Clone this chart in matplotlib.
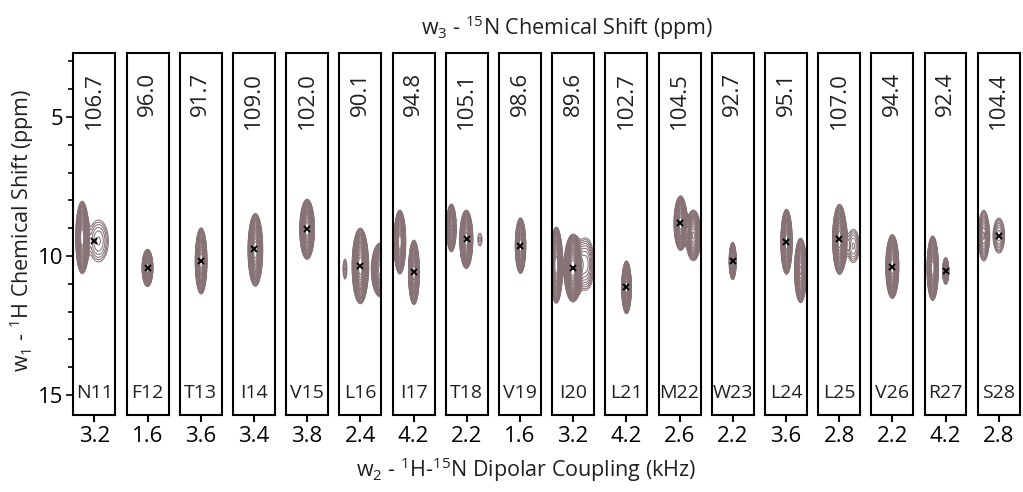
import numpy as np
import matplotlib.pyplot as plt
from matplotlib.ticker import MultipleLocator

plt.rcParams['font.family'] = ['Open Sans', 'DejaVu Sans']
plt.rcParams['mathtext.fontset'] = 'custom'
plt.rcParams['mathtext.rm'] = 'Open Sans'
plt.rcParams['mathtext.default'] = 'regular'
plt.rcParams['text.color'] = '#231f20'

# strip labels and assigned peak positions
residues = ['N11', 'F12', 'T13', 'I14', 'V15', 'L16', 'I17', 'T18', 'V19',
            'I20', 'L21', 'M22', 'W23', 'L24', 'L25', 'V26', 'R27', 'S28']
n15_shift = [106.7, 96.0, 91.7, 109.0, 102.0, 90.1, 94.8, 105.1, 98.6,
             89.6, 102.7, 104.5, 92.7, 95.1, 107.0, 94.4, 92.4, 104.4]
dipolar = [3.2, 1.6, 3.6, 3.4, 3.8, 2.4, 4.2, 2.2, 1.6,
           3.2, 4.2, 2.6, 2.2, 3.6, 2.8, 2.2, 4.2, 2.8]
h1_shift = [9.45, 10.43, 10.18, 9.76, 9.04, 10.36, 10.59, 9.40, 9.63,
            10.44, 11.13, 8.82, 10.18, 9.49, 9.40, 10.38, 10.54, 9.27]

# every resonance seen in each strip:
# (strip, dipolar kHz, 1H ppm, half-width kHz, half-width ppm, height)
peaks = [
    (0, 2.62, 9.33, 0.30, 1.29, 1.0), (0, 3.40, 9.46, 0.47, 0.75, 0.09),
    (1, 1.60, 10.43, 0.26, 0.67, 1.0),
    (2, 3.62, 10.18, 0.28, 1.19, 1.0),
    (3, 3.47, 9.78, 0.35, 1.31, 1.0),
    (4, 3.80, 9.04, 0.35, 1.08, 1.0),
    (5, 2.40, 10.36, 0.39, 1.36, 1.0), (5, 1.67, 10.47, 0.09, 0.36, 0.08),
    (5, 3.35, 10.50, 0.42, 0.97, 0.6),
    (6, 4.22, 10.59, 0.26, 1.16, 1.0), (6, 3.55, 9.50, 0.28, 1.15, 1.0),
    (7, 2.18, 9.40, 0.31, 1.05, 1.0), (7, 1.47, 8.99, 0.23, 0.86, 0.8),
    (7, 2.83, 9.41, 0.10, 0.23, 0.065),
    (8, 1.63, 9.63, 0.25, 1.00, 1.0),
    (9, 3.18, 10.44, 0.41, 1.20, 1.0), (9, 2.40, 10.33, 0.30, 1.37, 1.0),
    (9, 3.79, 10.29, 0.42, 0.94, 0.12),
    (10, 4.21, 11.13, 0.23, 0.95, 1.0),
    (11, 2.65, 8.82, 0.31, 0.98, 1.0), (11, 3.26, 9.26, 0.36, 0.91, 0.4),
    (12, 2.20, 10.18, 0.17, 0.67, 0.5),
    (13, 3.63, 9.49, 0.27, 1.17, 1.0), (13, 4.30, 10.52, 0.29, 1.16, 0.8),
    (14, 2.82, 9.40, 0.33, 1.26, 1.0), (14, 3.48, 9.64, 0.28, 0.60, 0.09),
    (15, 2.20, 10.38, 0.31, 1.15, 1.0),
    (16, 4.21, 10.54, 0.15, 0.48, 0.4), (16, 3.59, 10.44, 0.27, 1.16, 1.0),
    (17, 2.81, 9.27, 0.27, 0.63, 0.12), (17, 2.09, 9.27, 0.26, 0.91, 0.2),
]

W, H = 1023, 492
fig = plt.figure(figsize=(W / 100, H / 100), dpi=100)

y_top, y_bottom = 2.70, 15.72
floor = 0.05
levels = floor * 1.12 ** np.arange(26)
contour_color = '#877376'

for i, (res, n15, dc, h1) in enumerate(zip(residues, n15_shift, dipolar, h1_shift)):
    ax = fig.add_axes([(73.3 + 53.2 * i) / W, 77 / H, 42 / W, 362 / H])

    x = np.linspace(dc - 1, dc + 1, 260)
    y = np.linspace(y_top, y_bottom, 900)
    X, Y = np.meshgrid(x, y)
    Z = np.zeros_like(X)
    for strip, px, py, wx, wy, amp in peaks:
        if strip != i:
            continue
        k = np.sqrt(2 * np.log(amp / floor))
        sx, sy = wx / k, wy / k
        Z += amp * np.exp(-0.5 * (((X - px) / sx) ** 2 + ((Y - py) / sy) ** 2))
    ax.contour(X, Y, Z, levels=levels, colors=contour_color, linewidths=0.75)
    ax.plot(dc, h1, marker='x', color='black', ms=4, mew=1.4)

    ax.set_xlim(dc - 1, dc + 1)
    ax.set_ylim(y_bottom, y_top)
    ax.set_xticks([dc])
    ax.set_xticklabels([f'{dc:.1f}'])
    ax.tick_params(axis='x', length=5, width=1.5, labelsize=16, pad=3)

    for sp in ax.spines.values():
        sp.set_linewidth(1.5)

    ax.text(0.5, 0.948, f'{n15:.1f}', rotation=90, ha='center', va='top',
            transform=ax.transAxes, fontsize=16)
    ax.text(0.5, 0.047, res, ha='center', va='baseline',
            transform=ax.transAxes, fontsize=14)

    if i == 0:
        ax.set_yticks([5, 10, 15])
        ax.yaxis.set_minor_locator(MultipleLocator(1))
        ax.tick_params(axis='y', which='major', length=5, width=1.2,
                       labelsize=16, pad=2)
        ax.tick_params(axis='y', which='minor', length=3.5, width=1.2)
    else:
        ax.set_yticks([])

fig.text(567 / W, 1 - 28 / H, r'w$_3$ - $^{15}$N Chemical Shift (ppm)',
         ha='center', va='center', fontsize=15.5)
fig.text(526 / W, 1 - 470 / H, r'w$_2$ - $^1$H-$^{15}$N Dipolar Coupling (kHz)',
         ha='center', va='center', fontsize=15.5)
fig.text(22 / W, 1 - 230 / H, r'w$_1$ - $^1$H Chemical Shift (ppm)',
         ha='center', va='center', rotation=90, fontsize=15.5)

fig.savefig('out.png', dpi=100)
